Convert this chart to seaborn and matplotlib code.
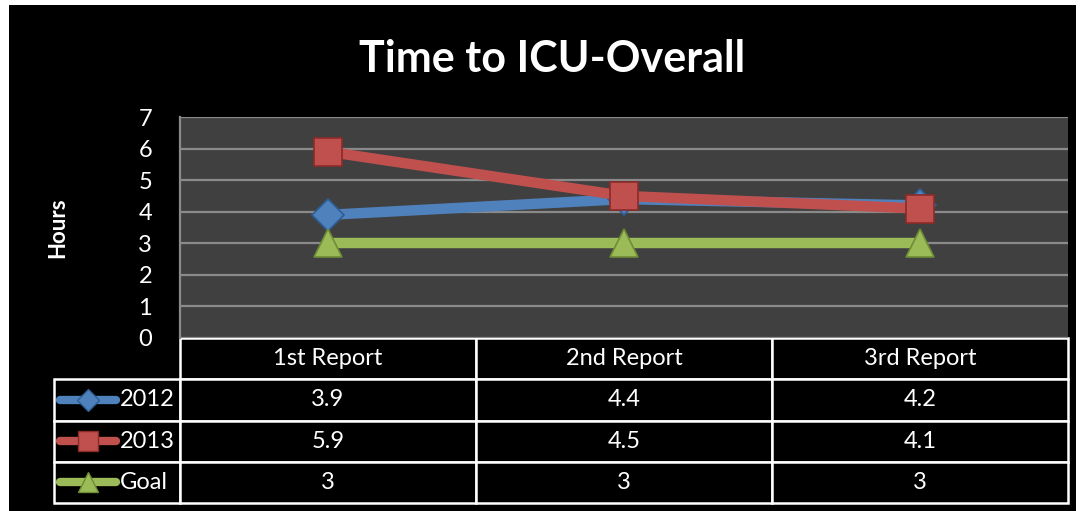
import numpy as np
import pandas as pd
import matplotlib.pyplot as plt
import seaborn as sns
from matplotlib.patches import Rectangle

# chart values
reports = ['1st Report', '2nd Report', '3rd Report']
series_names = ['2012', '2013', 'Goal']
hours_2012 = [3.9, 4.4, 4.2]
hours_2013 = [5.9, 4.5, 4.1]
hours_goal = [3, 3, 3]
y_ticks = [0, 1, 2, 3, 4, 5, 6, 7]

palette = {'2012': '#4F81BD', '2013': '#C0504D', 'Goal': '#9BBB59'}
edge_colors = {'2012': '#2F5D93', '2013': '#8C2B28', 'Goal': '#6E8C33'}
marker_map = {'2012': 'D', '2013': 's', 'Goal': '^'}
marker_sizes = {'2012': 16, '2013': 20, 'Goal': 20}

W, H = 1082, 511


def px(x, y):
    # pixel position (from top-left) -> figure fraction
    return x / W, 1 - y / H


def main():

    sns.set_theme(style='dark')
    plt.rcParams['font.family'] = ['Lato', 'DejaVu Sans']

    df = pd.DataFrame({
        'report': reports * 3,
        'hours': hours_2012 + hours_2013 + hours_goal,
        'series': np.repeat(series_names, len(reports)),
    })

    fig = plt.figure(figsize=(W / 100, H / 100), dpi=100, facecolor='white')
    # black slide background with a thin white margin
    fig.add_artist(Rectangle((9 / W, 0), (1076 - 9) / W, 506 / H,
                             transform=fig.transFigure, facecolor='black',
                             edgecolor='none', zorder=-5))

    left, top = px(180, 117)
    right, bottom = px(1068, 338)
    ax = fig.add_axes([left, bottom, right - left, top - bottom])
    ax.set_facecolor('#404040')

    sns.lineplot(data=df, x='report', y='hours', hue='series', style='series',
                 markers=marker_map, dashes=False, palette=palette,
                 hue_order=series_names, style_order=series_names,
                 linewidth=7.5, legend=False, ax=ax)
    for line, name in zip(ax.get_lines(), series_names):
        line.set_markersize(marker_sizes[name])
        line.set_markeredgecolor(edge_colors[name])
        line.set_markeredgewidth(1.2)
        line.set_solid_capstyle('butt')

    ax.set_xlim(-0.5, len(reports) - 0.5)
    ax.set_ylim(y_ticks[0], y_ticks[-1])
    ax.set_yticks(y_ticks)
    ax.set_xticks([])
    ax.set_xlabel('')
    ax.tick_params(axis='y', colors='white', labelsize=17, length=0, pad=20)
    ax.yaxis.grid(True, color='#8a8a8a', linewidth=1.6)
    ax.set_axisbelow(True)
    for side in ['top', 'right', 'bottom']:
        ax.spines[side].set_visible(False)
    ax.spines['left'].set_color('#8a8a8a')
    ax.spines['left'].set_linewidth(1.6)

    ax.set_ylabel('Hours', color='white', fontsize=16, fontweight='bold')
    ax.yaxis.set_label_coords(-0.126, 0.5)

    # data table under the plot, first column holds the series names
    x0 = (54 - 180) / 888
    tb_h = (503 - 338) / 221
    cell_text = [[name] + [f'{v:g}' for v in vals]
                 for name, vals in zip(series_names,
                                       (hours_2012, hours_2013, hours_goal))]
    tbl = ax.table(cellText=cell_text, colLabels=[''] + reports,
                   cellLoc='center', bbox=[x0, -tb_h, 1 - x0, tb_h])
    tbl.auto_set_font_size(False)
    tbl.set_fontsize(17)
    for (r, c), cell in tbl.get_celld().items():
        cell.set_facecolor('black')
        cell.set_edgecolor('white')
        cell.set_linewidth(1.8)
        cell.get_text().set_color('white')
        cell.set_width(126 if c == 0 else 296)
        if c == 0:
            cell.get_text().set_horizontalalignment('left')
            cell._loc = 'left'
            cell.PAD = 0.52
    tbl[0, 0].set_visible(False)

    # legend keys inside the first column
    for i, name in enumerate(series_names):
        yc = -(i + 1.5) * tb_h / 4
        ax.plot([(60 - 180) / 888, (116 - 180) / 888], [yc, yc],
                transform=ax.transAxes, clip_on=False, color=palette[name],
                linewidth=6, solid_capstyle='round')
        ax.plot([(88 - 180) / 888], [yc], transform=ax.transAxes,
                clip_on=False, marker=marker_map[name],
                markersize=marker_sizes[name] * 0.7,
                color=palette[name], markeredgecolor=edge_colors[name])

    tx, ty = px(552, 72)
    fig.text(tx, ty, 'Time to ICU-Overall', color='white', fontsize=31,
             fontweight='bold', ha='center', va='baseline')

    fig.savefig('out.png', dpi=100, facecolor=fig.get_facecolor())


if __name__ == '__main__':
    main()
